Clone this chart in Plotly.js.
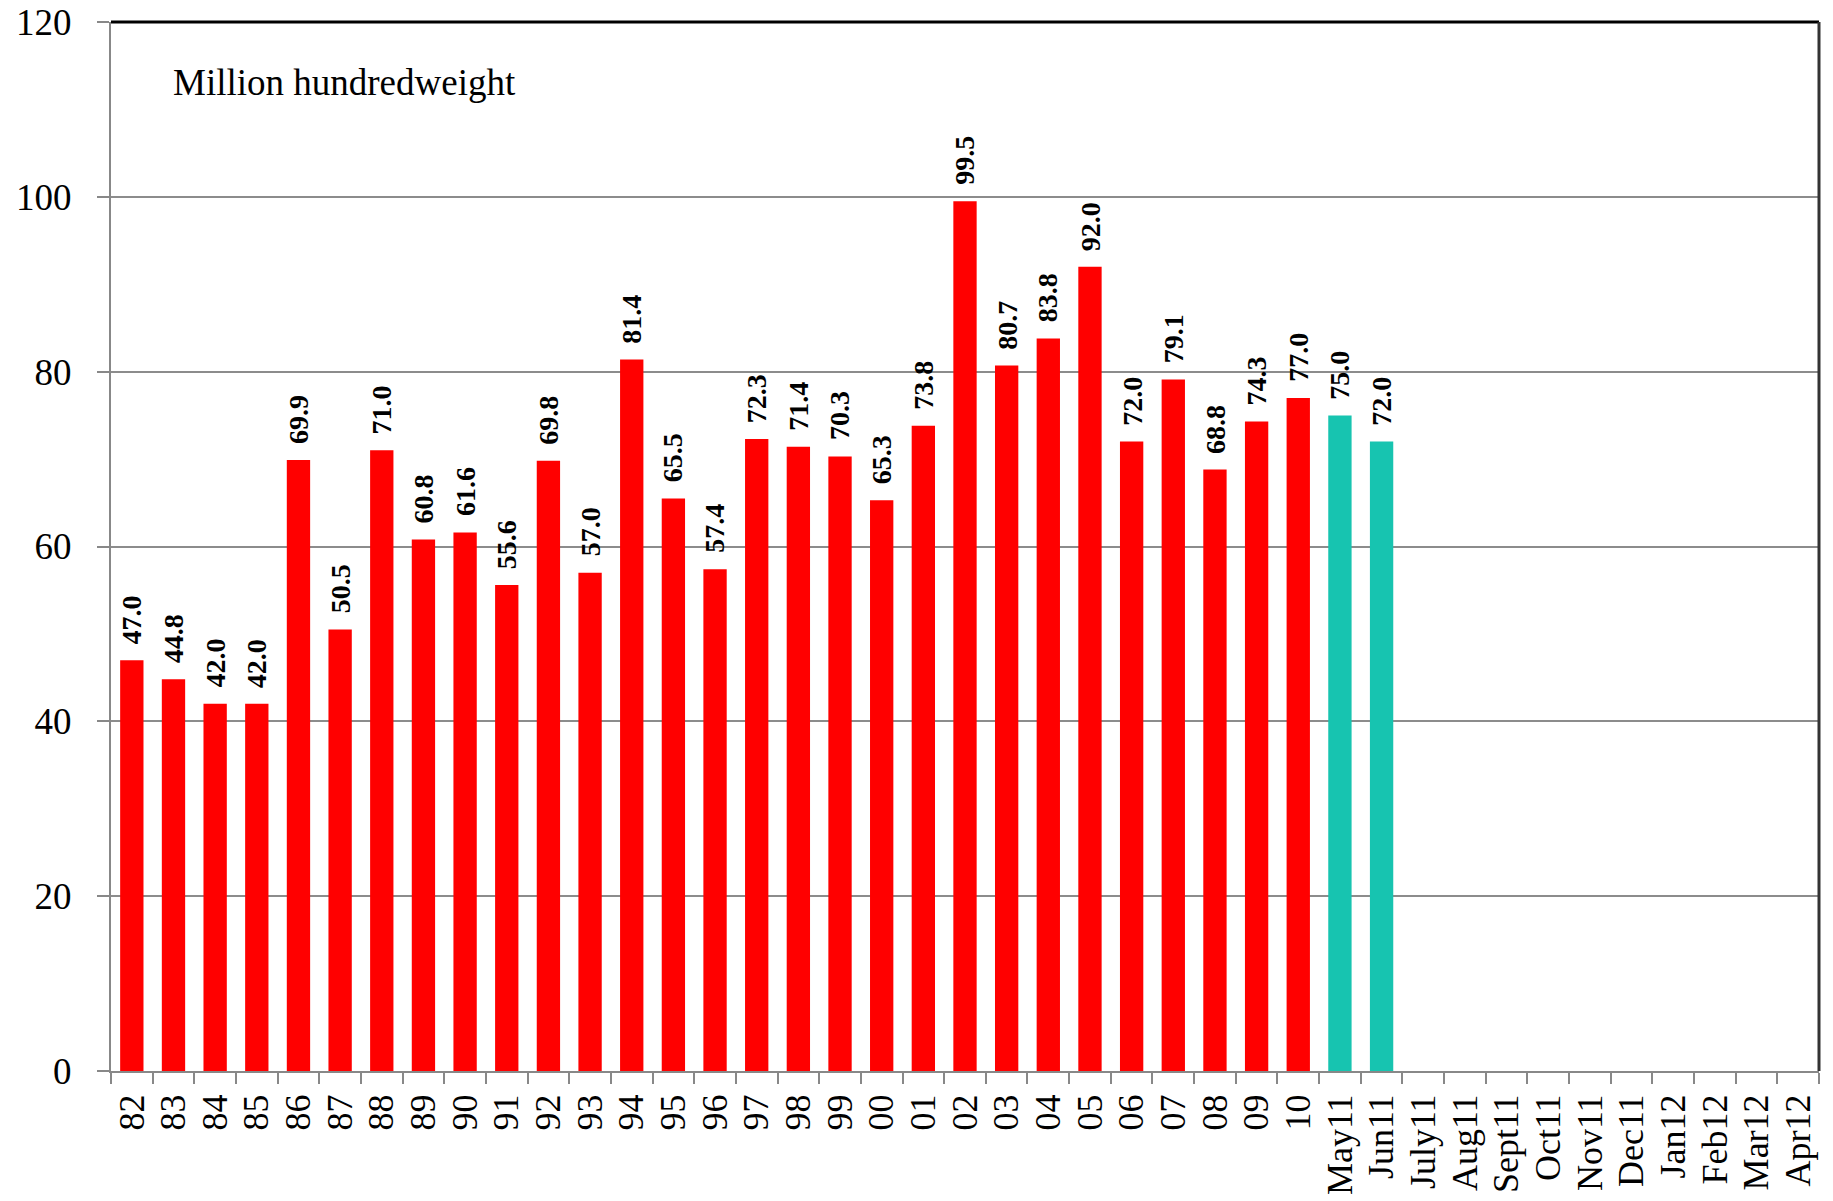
<!DOCTYPE html>
<html>
<head>
<meta charset="utf-8">
<script src="https://cdn.plot.ly/plotly-3.0.1.min.js"></script>
<style>html,body{margin:0;padding:0;background:#fff;}#chart{width:1833px;height:1201px;}</style>
</head>
<body>
<div id="chart"></div>
<script>
var annualCategories = ["82","83","84","85","86","87","88","89","90","91","92","93","94","95","96","97","98","99","00","01","02","03","04","05","06","07","08","09","10"];
var annualValues = [47.0,44.8,42.0,42.0,69.9,50.5,71.0,60.8,61.6,55.6,69.8,57.0,81.4,65.5,57.4,72.3,71.4,70.3,65.3,73.8,99.5,80.7,83.8,92.0,72.0,79.1,68.8,74.3,77.0];
var monthCategories = ["May11","Jun11","July11","Aug11","Sept11","Oct11","Nov11","Dec11","Jan12","Feb12","Mar12","Apr12"];
var monthValues = [75.0,72.0,null,null,null,null,null,null,null,null,null,null];
var unitLabel = "Million hundredweight";

var allCats = annualCategories.concat(monthCategories);
var font = "Liberation Serif, Times New Roman, serif";

var traces = [
  {type:"bar", x:annualCategories, y:annualValues, marker:{color:"#FF0000"}, hoverinfo:"x+y"},
  {type:"bar", x:monthCategories, y:monthValues, marker:{color:"#17C4B0"}, hoverinfo:"x+y"}
];

var annotations = [];
function addLabels(cats, vals){
  for (var i=0;i<cats.length;i++){
    if (vals[i]===null) continue;
    annotations.push({x:allCats.indexOf(cats[i]), y:vals[i], xref:"x", yref:"y", text:vals[i].toFixed(1),
      textangle:-90, showarrow:false, xanchor:"center", yanchor:"bottom", yshift:14,
      font:{family:font, size:28, color:"#000", weight:"bold"}});
  }
}
addLabels(annualCategories, annualValues);
addLabels(monthCategories, monthValues);
annotations.push({x:0.035, y:113.1, xref:"paper", yref:"y", text:unitLabel, showarrow:false,
  xanchor:"left", yanchor:"middle", font:{family:font, size:37, color:"#000"}});

var layout = {
  width:1833, height:1201,
  margin:{l:111, r:14, t:22, b:130},
  paper_bgcolor:"#fff", plot_bgcolor:"#fff",
  showlegend:false, barmode:"overlay", bargap:0.44,
  font:{family:font, color:"#000"},
  xaxis:{type:"category", categoryorder:"array", categoryarray:allCats, range:[-0.5, allCats.length-0.5],
    tickmode:"linear", tick0:0, dtick:1,
    tickangle:-90, tickson:"boundaries", ticks:"outside", ticklen:11, tickwidth:2, tickcolor:"#888",
    showline:true, linecolor:"#888", linewidth:2, showgrid:false, zeroline:false, ticklabelstandoff:7,
    tickfont:{family:font, size:36, color:"#000"}, fixedrange:true},
  yaxis:{range:[0,120], dtick:20, tick0:0, ticks:"outside", ticklen:12, tickwidth:2, tickcolor:"#888",
    showline:true, linecolor:"#888", linewidth:2, showgrid:true, gridcolor:"#8c8c8c", gridwidth:2,
    zeroline:false, tickfont:{family:font, size:37, color:"#000"}, ticklabelstandoff:18, fixedrange:true},
  shapes:[
    {type:"line", xref:"paper", yref:"paper", x0:0, x1:1, y0:1, y1:1, line:{color:"#000", width:3}},
    {type:"line", xref:"paper", yref:"paper", x0:1, x1:1, y0:0, y1:1, line:{color:"#333", width:3}}
  ],
  annotations:annotations
};

Plotly.newPlot("chart", traces, layout, {displayModeBar:false, staticPlot:true});
</script>
</body>
</html>
